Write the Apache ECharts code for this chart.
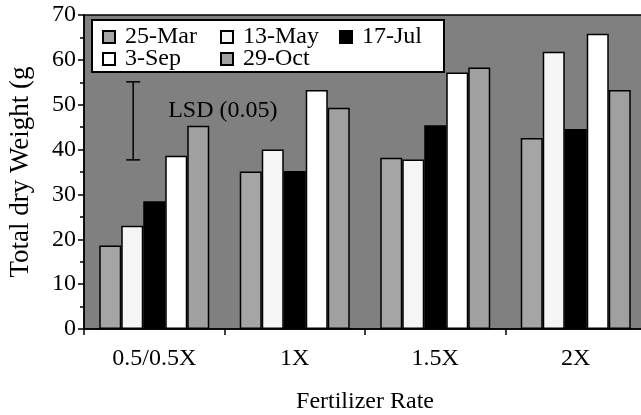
<!DOCTYPE html>
<html>
<head>
<meta charset="utf-8">
<script src="https://cdn.jsdelivr.net/npm/echarts@6/dist/echarts.min.js"></script>
<style>
html,body{margin:0;padding:0;background:#fff;}
#c{width:641px;height:415px;}
</style>
</head>
<body>
<div id="c"></div>
<script>
const categories = ['0.5/0.5X', '1X', '1.5X', '2X'];
const seriesNames = ['25-Mar', '13-May', '17-Jul', '3-Sep', '29-Oct'];
const mar25 = [18.6, 35.1, 38.2, 42.6];
const may13 = [23.0, 40.0, 37.8, 61.8];
const jul17 = [28.5, 35.2, 45.4, 44.6];
const sep3  = [38.6, 53.3, 57.2, 65.8];
const oct29 = [45.3, 49.3, 58.3, 53.3];
const yTicks = [0, 10, 20, 30, 40, 50, 60, 70];
const lsd = [[0, 55.1, 37.7]];
const lsdLabel = 'LSD (0.05)';

const FONT = 'Liberation Serif';
const colors = ['#a5a5a5', '#f5f5f5', '#000000', '#ffffff', '#a0a0a0'];
const values = [mar25, may13, jul17, sep3, oct29];

const chart = echarts.init(document.getElementById('c'), null, {renderer: 'canvas'});

const barSeries = seriesNames.map((n, i) => ({
  name: n,
  type: 'bar',
  data: values[i],
  barGap: '0%',
  barCategoryGap: '21.7%',
  itemStyle: {color: colors[i], borderColor: '#000', borderWidth: 1.5},
  emphasis: {disabled: true},
  animation: false
}));

const legendCommon = {
  orient: 'vertical',
  padding: 0,
  itemWidth: 12,
  itemHeight: 12,
  itemGap: -2,
  icon: 'rect',
  z: 30,
  selectedMode: false,
  textStyle: {fontFamily: FONT, fontSize: 24, color: '#000', lineHeight: 20, padding: [0, 0, 0, 5]}
};

chart.setOption({
  animation: false,
  textStyle: {fontFamily: FONT},
  grid: {left: 84, top: 15, right: -5, bottom: 86, show: true, backgroundColor: '#808080', borderColor: '#000', borderWidth: 1.5, containLabel: false, outerBoundsMode: 'none'},
  graphic: [{
    type: 'rect', left: 91, top: 19, z: 20,
    shape: {width: 352, height: 52},
    style: {fill: '#fff', stroke: '#000', lineWidth: 2}
  }],
  legend: [
    Object.assign({}, legendCommon, {left: 102, top: 25, data: [seriesNames[0], seriesNames[3]]}),
    Object.assign({}, legendCommon, {left: 220, top: 25, data: [seriesNames[1], seriesNames[4]]}),
    Object.assign({}, legendCommon, {left: 339, top: 25, data: [seriesNames[2]]})
  ],
  xAxis: {
    type: 'category',
    data: categories,
    name: 'Fertilizer Rate',
    nameLocation: 'middle',
    nameGap: 61,
    nameTextStyle: {fontFamily: FONT, fontSize: 24, color: '#000'},
    axisLine: {lineStyle: {color: '#000', width: 1.5}},
    axisTick: {show: true, inside: false, length: 6, lineStyle: {color: '#000', width: 1.5}},
    axisLabel: {fontFamily: FONT, fontSize: 24, color: '#000', margin: 18},
    splitLine: {show: false}
  },
  yAxis: {
    type: 'value',
    min: 0, max: 70, interval: 10,
    name: 'Total dry Weight (g',
    nameLocation: 'middle',
    nameGap: 50,
    nameRotate: 90,
    nameTextStyle: {fontFamily: FONT, fontSize: 27, color: '#000'},
    axisLine: {show: true, lineStyle: {color: '#000', width: 1.5}},
    axisTick: {show: true, inside: false, length: 6, lineStyle: {color: '#000', width: 1.5}},
    minorTick: {show: true, splitNumber: 2, length: 4, lineStyle: {color: '#000', width: 1.5}},
    axisLabel: {fontFamily: FONT, fontSize: 24, color: '#000', margin: 8,
      formatter: v => (yTicks.indexOf(v) >= 0 ? String(v) : '')},
    splitLine: {show: false}
  },
  series: barSeries.concat([{
    type: 'custom',
    name: 'LSD',
    data: lsd,
    z: 10,
    silent: true,
    renderItem: function (params, api) {
      const top = api.coord([api.value(0), api.value(1)]);
      const bot = api.coord([api.value(0), api.value(2)]);
      const w = api.size([1, 0])[0];
      const x = top[0] - w * 0.15;
      const st = {stroke: '#000', lineWidth: 1.5};
      return {
        type: 'group',
        children: [
          {type: 'line', shape: {x1: x, y1: top[1], x2: x, y2: bot[1]}, style: st},
          {type: 'line', shape: {x1: x - 7, y1: top[1], x2: x + 7, y2: top[1]}, style: st},
          {type: 'line', shape: {x1: x - 7, y1: bot[1], x2: x + 7, y2: bot[1]}, style: st},
          {type: 'text', style: {text: lsdLabel, x: x + 35, y: top[1] + 29, fill: '#000',
            font: '24px "' + FONT + '"', verticalAlign: 'middle', align: 'left'}}
        ]
      };
    }
  }])
});
</script>
</body>
</html>
